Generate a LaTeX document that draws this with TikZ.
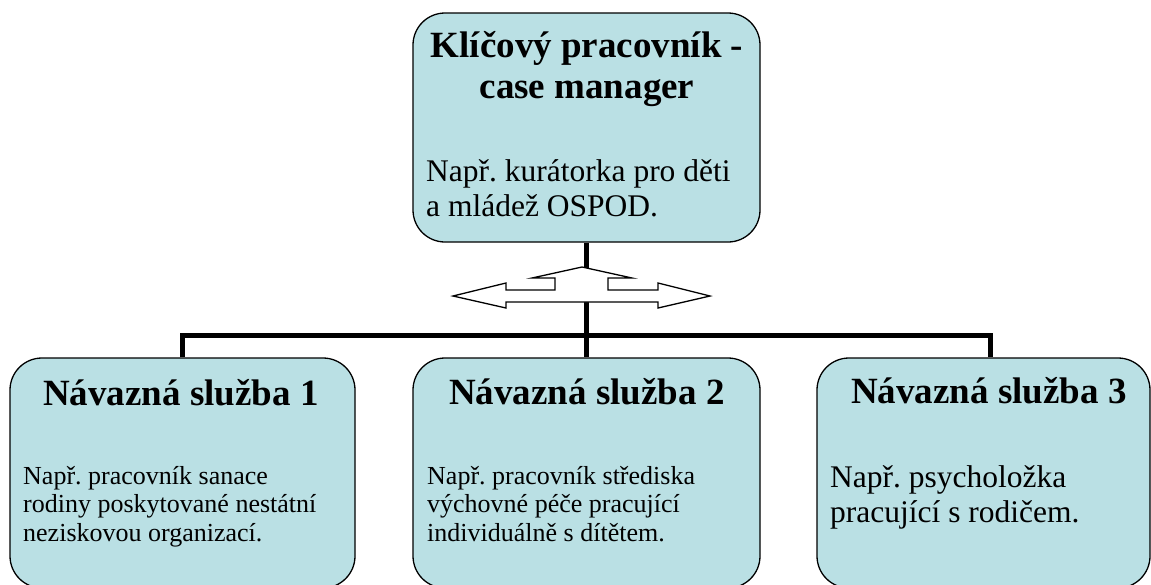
\documentclass[tikz,border=0pt]{standalone}
\usepackage{fontspec}
\setmainfont{Liberation Serif}
\definecolor{boxfill}{RGB}{186,224,228}
\frenchspacing
\begin{document}
\begin{tikzpicture}[x=1pt,y=-1pt,
  box/.style={draw=black, line width=1.3pt, fill=boxfill, rounded corners=32pt, inner sep=0pt, rectangle},
  ttl/.style={font=\fontsize{37}{41}\selectfont\bfseries, anchor=base, inner sep=0pt, align=center},
  bodybig/.style={font=\fontsize{31.5}{35}\selectfont, anchor=base west, inner sep=0pt, align=left},
  bodysmall/.style={font=\fontsize{26}{28.5}\selectfont, anchor=base west, inner sep=0pt, align=left},
  conn/.style={draw=black, line width=5pt, line join=miter},
  arrowshape/.style={draw=black, fill=white, line width=1.3pt, line join=miter}
]
\useasboundingbox (0,0) rectangle (1151,584);
\fill[white] (0,0) rectangle (1151,584);
\clip (0,0) rectangle (1151,584);

% boxes
\node[box, minimum width=347pt, minimum height=229pt] (top) at (586.5,127.5) {};
\node[box, minimum width=345pt, minimum height=230pt] (b1) at (182.5,473) {};
\node[box, minimum width=347pt, minimum height=230pt] (b2) at (586.5,473) {};
\node[box, minimum width=333pt, minimum height=230pt] (b3) at (983.5,473) {};

% connectors
\coordinate (j3) at (990,335);
\draw[conn] (top.south) -- (b2.north);
\draw[conn] (b1.north) |- (j3) -- (j3 |- b3.north);

% three-way arrow
\draw[arrowshape] (582,267) -- (632,278) -- (608,278) -- (608,290) -- (658,290) -- (658,283)
  -- (710,296) -- (658,308) -- (658,302) -- (506,302) -- (506,308) -- (453,296)
  -- (506,283) -- (506,290) -- (555,290) -- (555,278) -- (532,278) -- cycle;

% texts (base anchor = baseline of the last line)
\node[ttl] (toptitle) at (587,98) {Klíčový pracovník -\\case manager};
\node[bodybig] (topbody) at (426,216) {Např. kurátorka pro děti\\a mládež OSPOD.};

\node[ttl] (t1) at (181,405) {Návazná služba 1};
\node[bodysmall] (d1) at (23,541) {Např. pracovník sanace\\rodiny poskytované nestátní\\neziskovou organizací.};

\node[ttl] (t2) at (587,404) {Návazná služba 2};
\node[bodysmall] (d2) at (427,541) {Např. pracovník střediska\\výchovné péče pracující\\individuálně s dítětem.};

\node[ttl] (t3) at (989,403) {Návazná služba 3};
\node[bodybig] (d3) at (830,522) {Např. psycholožka\\pracující s rodičem.};
\end{tikzpicture}
\end{document}
